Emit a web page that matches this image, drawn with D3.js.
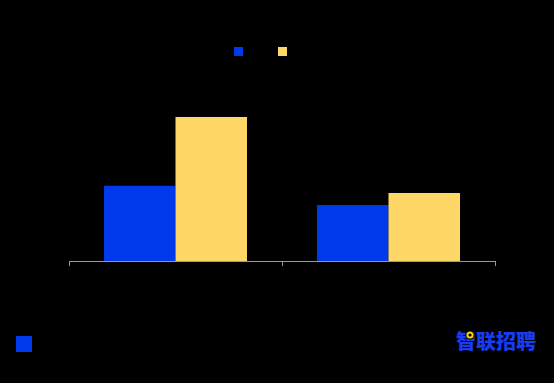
<!DOCTYPE html>
<html>
<head>
<meta charset="utf-8">
<script src="https://cdn.jsdelivr.net/npm/d3@7"></script>
<style>
  body { margin: 0; background: #000; }
</style>
</head>
<body>
<div id="chart"></div>
<script>
var svgWidth = 554;
var svgHeight = 383;

// data
var categories = ["A", "B"];
var series = ["s1", "s2"];
var valuesS1 = [47, 35];
var valuesS2 = [90, 42.5];
var colors = ["#0039EB", "#FFD766"];

var margin = { top: 101, right: 59, bottom: 122, left: 69 };
var width = svgWidth - margin.left - margin.right;
var height = svgHeight - margin.top - margin.bottom;

var svg = d3.select("#chart")
    .append("svg")
    .attr("width", svgWidth)
    .attr("height", svgHeight)
    .style("background", "#000");

var chartGroup = svg.append("g")
    .attr("transform", `translate(${margin.left}, ${margin.top})`);

var rows = categories.map((c, i) => ({ cat: c, vals: [valuesS1[i], valuesS2[i]] }));

var x0 = d3.scaleBand()
    .domain(categories)
    .range([0, width]);

var x1 = d3.scaleBand()
    .domain(series)
    .range([35, x0.bandwidth() - 35]);

var yLinearScale = d3.scaleLinear()
    .domain([0, 100])
    .range([height, 0]);

var color = d3.scaleOrdinal().domain(series).range(colors);

// bars
chartGroup.selectAll(".grp")
    .data(rows)
    .enter()
    .append("g")
    .attr("transform", d => `translate(${x0(d.cat)}, 0)`)
    .selectAll("rect")
    .data(d => d.vals.map((v, j) => ({ key: series[j], value: v })))
    .enter()
    .append("rect")
    .attr("x", d => x1(d.key))
    .attr("width", x1.bandwidth())
    .attr("y", d => yLinearScale(d.value))
    .attr("height", d => height - yLinearScale(d.value))
    .attr("fill", d => color(d.key));

// bottom axis with ticks at band edges
var edgeScale = d3.scaleLinear().domain([0, categories.length]).range([0, width]);
var bottomAxis = d3.axisBottom(edgeScale)
    .tickValues(d3.range(categories.length + 1))
    .tickSize(5)
    .tickSizeOuter(0)
    .tickFormat("");

var axisG = chartGroup.append("g")
    .attr("transform", `translate(0, ${height})`)
    .call(bottomAxis);
axisG.selectAll("path, line").attr("stroke", "#999").attr("stroke-width", 1);
axisG.select(".domain").attr("d", `M0.5,0.5H${width + 0.5}`);

// category labels (black, as in the picture)
chartGroup.selectAll(".cat")
    .data(categories)
    .enter()
    .append("text")
    .attr("x", d => x0(d) + x0.bandwidth() / 2)
    .attr("y", height + 22)
    .attr("text-anchor", "middle")
    .attr("font-family", "Noto Sans CJK SC")
    .attr("font-size", 12)
    .attr("fill", "#000")
    .text(d => d);

// legend
var legend = svg.append("g").attr("transform", "translate(234, 47)");
series.forEach((s, i) => {
    legend.append("rect")
        .attr("x", i * 44)
        .attr("y", 0)
        .attr("width", 9)
        .attr("height", 9)
        .attr("fill", color(s));
});

// bottom-left marker
svg.append("rect")
    .attr("x", 16)
    .attr("y", 336)
    .attr("width", 16)
    .attr("height", 16)
    .attr("fill", colors[0]);

// logo
svg.append("text")
    .attr("x", 456)
    .attr("y", 349)
    .attr("font-family", "Noto Sans CJK SC")
    .attr("font-weight", 900)
    .attr("font-size", 20)
    .attr("fill", "#1A3CF0")
    .text("智联招聘");

svg.append("circle")
    .attr("cx", 470)
    .attr("cy", 335)
    .attr("r", 4.5)
    .attr("fill", "#000");
svg.append("circle")
    .attr("cx", 470)
    .attr("cy", 335)
    .attr("r", 2.6)
    .attr("fill", "none")
    .attr("stroke", "#FFD200")
    .attr("stroke-width", 2);
</script>
</body>
</html>
